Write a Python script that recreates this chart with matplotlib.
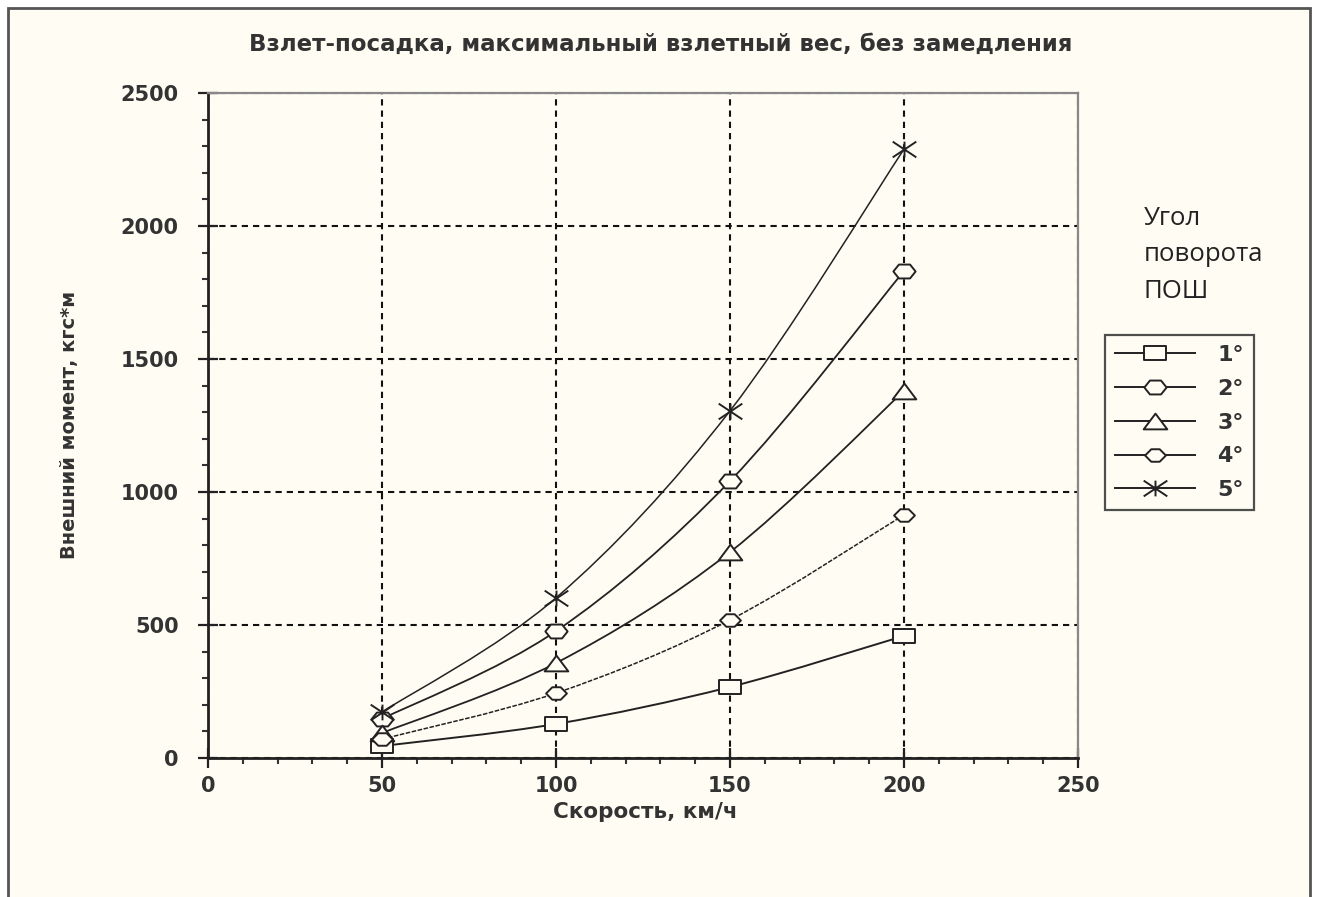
import numpy as np
import matplotlib
matplotlib.use("Agg")
import matplotlib.pyplot as plt
from matplotlib.path import Path
from matplotlib.patches import PathPatch, Rectangle
from matplotlib.lines import Line2D
from matplotlib.ticker import MultipleLocator

# ---------------- data ----------------
speed = [50, 100, 150, 200]
s1 = [45, 128, 267, 459]
s2 = [147, 477, 1041, 1831]
s3 = [94, 357, 774, 1380]
s4 = [71, 244, 519, 914]
s5 = [173, 602, 1305, 2289]
labels = ["1°", "2°", "3°", "4°", "5°"]
yticks = [0, 500, 1000, 1500, 2000, 2500]
xticks = [0, 50, 100, 150, 200, 250]
title = "Взлет-посадка, максимальный взлетный вес, без замедления"
xlabel = "Скорость, км/ч"
ylabel = "Внешний момент, кгс*м"
legend_title = "Угол\nповорота\nПОШ"

BG = "#fffdf3"
INK = "#222222"
FONT = "DejaVu Sans"

# wide custom markers (reference markers are stretched horizontally)
def rect_marker(w=1.6, h=1.0):
    return Path([(-w/2, -h/2), (w/2, -h/2), (w/2, h/2), (-w/2, h/2), (-w/2, -h/2)],
                [Path.MOVETO, Path.LINETO, Path.LINETO, Path.LINETO, Path.CLOSEPOLY])

def hex_marker(w=1.6, h=1.0):
    v = [(-w/2, 0), (-w/4, -h/2), (w/4, -h/2), (w/2, 0), (w/4, h/2), (-w/4, h/2), (-w/2, 0)]
    return Path(v, [Path.MOVETO] + [Path.LINETO]*5 + [Path.CLOSEPOLY])

def tri_marker(w=1.5, h=1.0):
    v = [(-w/2, -h/2), (w/2, -h/2), (0, h/2), (-w/2, -h/2)]
    return Path(v, [Path.MOVETO, Path.LINETO, Path.LINETO, Path.CLOSEPOLY])

def diamond_marker(w=1.5, h=0.9):
    v = [(-w/2, 0), (-w/5, -h/2), (w/5, -h/2), (w/2, 0), (w/5, h/2), (-w/5, h/2), (-w/2, 0)]
    return Path(v, [Path.MOVETO] + [Path.LINETO]*5 + [Path.CLOSEPOLY])

def star_marker(w=1.5, h=1.0):
    v = [(-w/2, -h/2), (w/2, h/2), (-w/2, h/2), (w/2, -h/2), (0, -h/2), (0, h/2)]
    return Path(v, [Path.MOVETO, Path.LINETO, Path.MOVETO, Path.LINETO, Path.MOVETO, Path.LINETO])

series = [
    (s1, rect_marker(), 16, "-", 1.4),
    (s2, hex_marker(), 16, "-", 1.3),
    (s3, tri_marker(), 17, "-", 1.3),
    (s4, diamond_marker(), 15, (0, (3, 1)), 1.1),
    (s5, star_marker(), 17, "-", 1.1),
]

def smooth_path(xs, ys):
    pts = np.column_stack([xs, ys]).astype(float)
    n = len(pts)
    verts = [pts[0]]
    codes = [Path.MOVETO]
    for i in range(n - 1):
        p0 = pts[i - 1] if i > 0 else pts[i]
        p1 = pts[i]
        p2 = pts[i + 1]
        p3 = pts[i + 2] if i + 2 < n else pts[i + 1]
        c1 = p1 + (p2 - p0) / 6.0
        c2 = p2 - (p3 - p1) / 6.0
        verts += [c1, c2, p2]
        codes += [Path.CURVE4] * 3
    return Path(verts, codes)

fig = plt.figure(figsize=(13.2, 8.97), dpi=100, facecolor="white")
fig.patches.append(Rectangle((8/1320, -0.02), (1310-8)/1320, 1 - 8/897 + 0.02,
                             transform=fig.transFigure, facecolor=BG,
                             edgecolor="#555555", linewidth=2.0, zorder=-10))

ax = fig.add_axes([208/1320, 1 - 758/897, (1078-208)/1320, (758-93)/897])
ax.set_facecolor(BG)
ax.set_xlim(0, 250)
ax.set_ylim(0, 2500)

# grid
ax.grid(True, which="major", color="#111111", linestyle=(0, (3, 2.4)), linewidth=1.5)
ax.set_axisbelow(True)

handles = []
for ys, mk, ms, ls, lw in series:
    ax.add_patch(PathPatch(smooth_path(speed, ys), fill=False, edgecolor=INK,
                           linewidth=lw, linestyle=ls, zorder=3))
    ax.plot(speed, ys, linestyle="none", marker=mk, markersize=ms,
            markerfacecolor=BG, markeredgecolor=INK, markeredgewidth=1.4, zorder=4)
    handles.append(Line2D([], [], color=INK, linewidth=1.4, marker=mk, markersize=ms,
                          markerfacecolor=BG, markeredgecolor=INK, markeredgewidth=1.4))

# spines
for side in ["left", "bottom"]:
    ax.spines[side].set_color("#222222")
    ax.spines[side].set_linewidth(2.0)
for side in ["top", "right"]:
    ax.spines[side].set_color("#888888")
    ax.spines[side].set_linewidth(1.6)

ax.set_xticks(xticks)
ax.set_yticks(yticks)
ax.xaxis.set_minor_locator(MultipleLocator(10))
ax.yaxis.set_minor_locator(MultipleLocator(100))
ax.tick_params(which="major", direction="inout", length=14, width=1.6, color="#222222",
               labelsize=15, labelcolor="#333333", pad=6)
ax.tick_params(which="minor", direction="out", length=4, width=1.5, color="#333333")
ax.tick_params(axis="y", which="major", pad=14)
for lab in ax.get_xticklabels() + ax.get_yticklabels():
    lab.set_fontfamily(FONT)
    lab.set_fontweight("bold")

fig.text(661/1320, 1 - 44/897, title, ha="center", va="center", fontsize=16.5,
         fontfamily=FONT, fontweight="bold", color="#333333")
fig.text(645/1320, 1 - 812/897, xlabel, ha="center", va="center", fontsize=15.5,
         fontfamily=FONT, fontweight="bold", color="#333333")
fig.text(70/1320, 1 - 425/897, ylabel, ha="center", va="center", rotation=90,
         fontsize=14, fontfamily=FONT, fontweight="bold", color="#333333")

fig.text(1144/1320, 1 - 206/897, legend_title, ha="left", va="top", fontsize=18.5,
         fontfamily="Open Sans", color="#222222", linespacing=1.6)

leg = fig.legend(handles, labels, loc="upper left",
                 bbox_to_anchor=(1105/1320, 1 - 335/897),
                 bbox_transform=fig.transFigure, frameon=True, fancybox=False,
                 handlelength=3.6, handletextpad=1.0, labelspacing=0.62,
                 borderpad=0.45, borderaxespad=0.0,
                 prop={"family": FONT, "weight": "bold", "size": 16})
leg.get_frame().set_edgecolor("#222222")
leg.get_frame().set_linewidth(1.6)
leg.get_frame().set_facecolor(BG)
for t in leg.get_texts():
    t.set_color("#333333")

fig.savefig("out.png", dpi=100, facecolor="white")
